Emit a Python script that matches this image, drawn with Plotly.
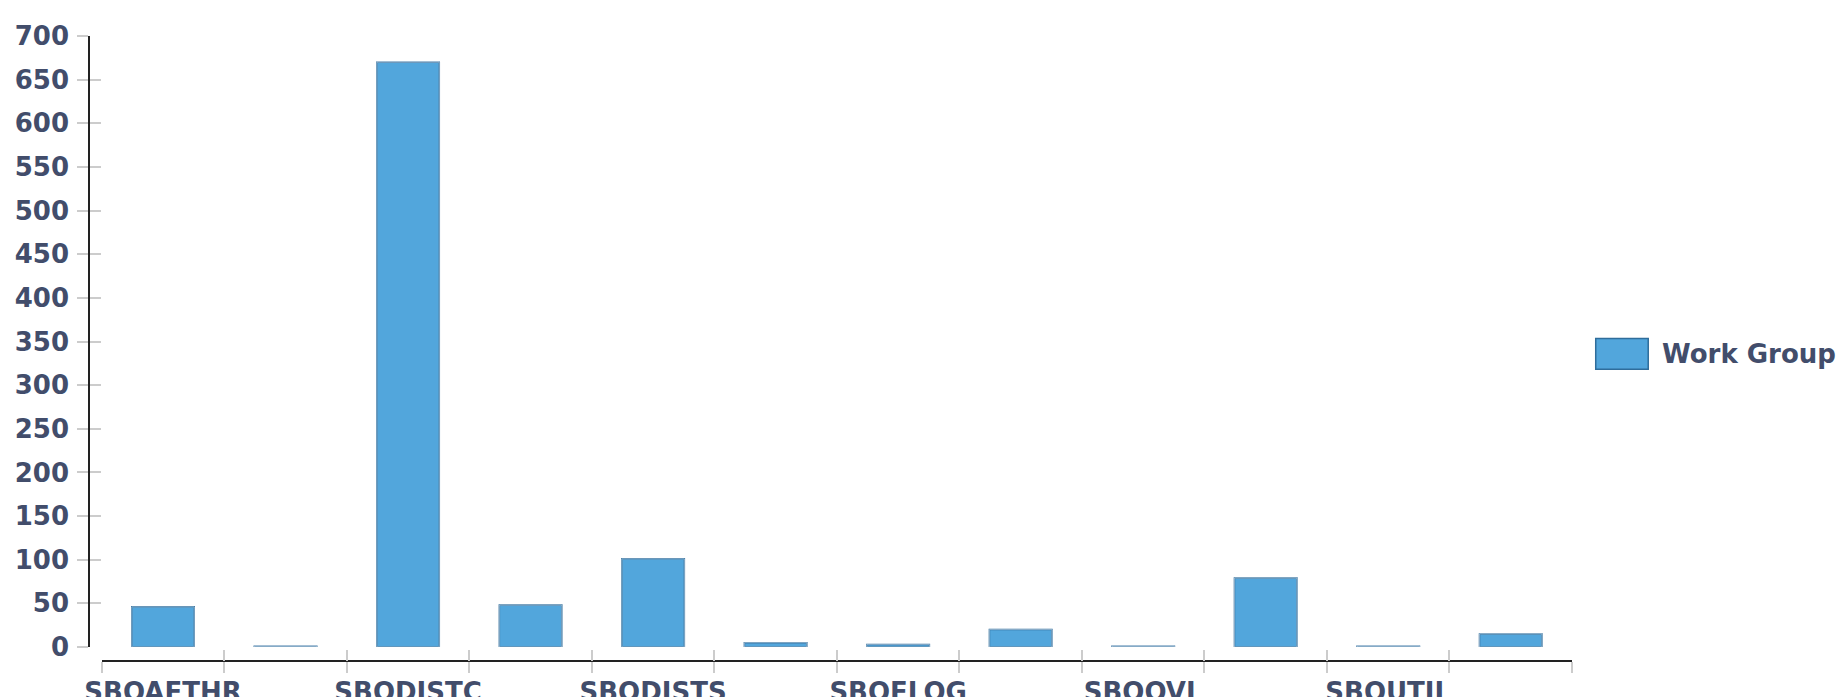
import plotly.graph_objects as go

# ---- data ----
tick_labels = ["SBOAFTHR", "", "SBODISTC", "", "SBODISTS", "", "SBOFLOG", "",
               "SBOOVL", "", "SBOUTIL", ""]
values = [46, 1, 670, 48, 101, 5, 3, 20, 1, 79, 1, 15]
series_name = "Work Group"
y_ticks = list(range(0, 701, 50))

x_idx = list(range(len(values)))
boundaries = [i - 0.5 for i in range(len(values) + 1)]

TXT = "#424d6b"
FILL = "#52a6dc"
EDGE = "#2f6d9b"
TICK = "#cccccc"
FONT = dict(family="DejaVu Sans", size=26, color=TXT, weight="bold")

fig = go.Figure()
fig.add_trace(go.Bar(x=x_idx, y=values, name=series_name,
                     marker=dict(color=FILL, line=dict(color=EDGE, width=1.5)),
                     showlegend=False))
# invisible companion trace to carry the overlaid axes (inner half of crossing ticks)
fig.add_trace(go.Bar(x=x_idx, y=values, xaxis="x2", yaxis="y2",
                     marker=dict(color="rgba(0,0,0,0)"), hoverinfo="skip",
                     showlegend=False))

xr = [boundaries[0], boundaries[-1]]
fig.update_layout(
    width=1843, height=697,
    margin=dict(l=89, r=271, t=36, b=36),
    paper_bgcolor="white", plot_bgcolor="white",
    bargap=0.49,
    font=FONT,
    xaxis=dict(domain=[0.0086, 1], anchor="free", position=0, range=xr,
               tickmode="array", tickvals=x_idx, ticktext=tick_labels,
               ticks="outside", ticklen=11, tickcolor="rgba(0,0,0,0)",
               ticklabelstandoff=-3,
               tickfont=FONT, showline=True, linecolor="#222222", linewidth=2,
               showgrid=False, zeroline=False, automargin=False,
               minor=dict(tickmode="array", tickvals=boundaries, ticks="outside",
                          ticklen=11, tickcolor=TICK, tickwidth=1.5, showgrid=False)),
    xaxis2=dict(overlaying="x", anchor="free", position=0, range=xr,
                tickmode="array", tickvals=boundaries, ticks="inside", ticklen=11,
                tickcolor=TICK, tickwidth=1.5, showticklabels=False, showline=False,
                showgrid=False, zeroline=False),
    yaxis=dict(domain=[0.0224, 1], anchor="free", position=0, range=[0, 700],
               tickmode="array", tickvals=y_ticks, ticks="outside", ticklen=11,
               tickcolor=TICK, tickwidth=1.5, tickfont=FONT, ticklabelstandoff=3,
               showline=True, linecolor="#222222", linewidth=1.5,
               showgrid=False, zeroline=False, automargin=False),
    yaxis2=dict(overlaying="y", anchor="free", position=0, range=[0, 700],
                tickmode="array", tickvals=y_ticks, ticks="inside", ticklen=11,
                tickcolor=TICK, tickwidth=1.5, showticklabels=False, showline=False,
                showgrid=False, zeroline=False),
)

# legend drawn as a swatch + label
fig.add_shape(type="rect", xref="paper", yref="paper",
              x0=1.016, x1=1.0514, y0=0.467, y1=0.516,
              fillcolor=FILL, line=dict(color=EDGE, width=1.5))
fig.add_annotation(xref="paper", yref="paper", x=1.0593, y=0.4915,
                   xanchor="left", yanchor="middle", text=series_name,
                   showarrow=False, font=FONT)

fig.write_html("out.html",
               config={"displayModeBar": False},
               post_script="document.body.style.margin='0';"
                           "document.body.style.overflow='hidden';")
